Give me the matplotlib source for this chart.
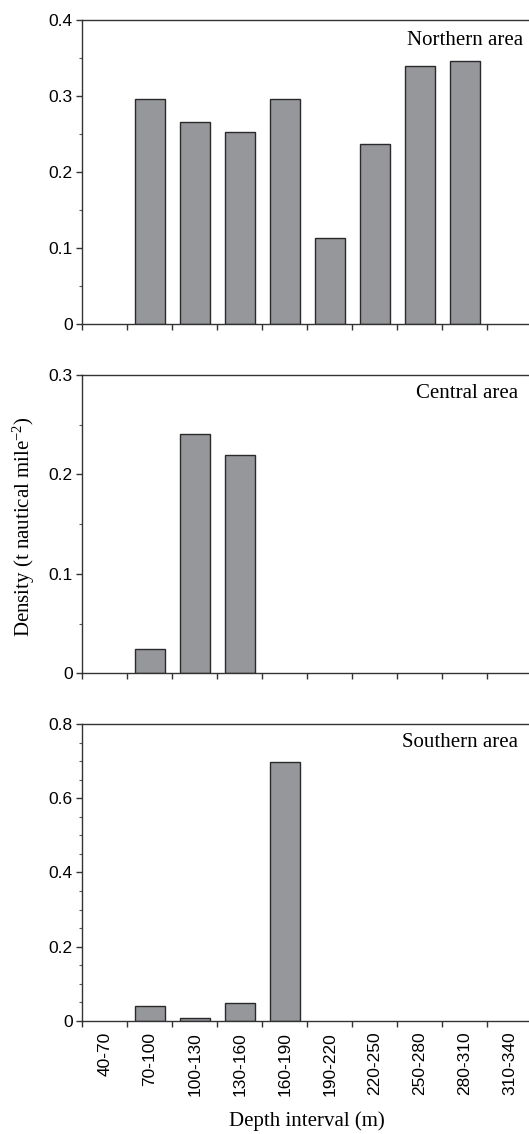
import numpy as np
import matplotlib
matplotlib.use('Agg')
import matplotlib.pyplot as plt
from matplotlib.ticker import MultipleLocator

depths = ['40-70', '70-100', '100-130', '130-160', '160-190',
          '190-220', '220-250', '250-280', '280-310', '310-340']
northern = [0, 0.296, 0.266, 0.252, 0.296, 0.113, 0.237, 0.340, 0.346, 0]
central = [0, 0.024, 0.241, 0.220, 0, 0, 0, 0, 0, 0]
southern = [0, 0.040, 0.007, 0.047, 0.698, 0, 0, 0, 0, 0]
areas = ['Northern area', 'Central area', 'Southern area']
ymax = [0.4, 0.3, 0.8]
ystep = [0.1, 0.1, 0.2]

plt.rcParams['mathtext.fontset'] = 'custom'
plt.rcParams['mathtext.rm'] = 'Liberation Serif'
plt.rcParams['mathtext.it'] = 'Liberation Serif:italic'

fig = plt.figure(figsize=(5.29, 11.34), dpi=100)
boxes = [[0.1556, 0.7143, 0.8507, 0.2681],
         [0.1556, 0.4063, 0.8507, 0.2630],
         [0.1556, 0.0999, 0.8507, 0.2614]]
text_pos = [(0.979, 0.918), (0.968, 0.922), (0.968, 0.924)]

x = np.arange(len(depths))
for i, vals in enumerate([northern, central, southern]):
    ax = fig.add_axes(boxes[i])
    # empty intervals get no outline
    edges = ['#2a2a2a' if v > 0 else 'none' for v in vals]
    ax.bar(x, vals, width=0.66, color='#96979b', edgecolor=edges, linewidth=1.0, zorder=3)
    ax.set_xlim(-0.5, 9.5)
    ax.set_ylim(0, ymax[i])
    ax.yaxis.set_major_locator(MultipleLocator(ystep[i]))
    ax.yaxis.set_minor_locator(MultipleLocator(0.05))
    ax.yaxis.set_major_formatter(plt.FuncFormatter(lambda v, p: '0' if v == 0 else '%g' % v))
    ax.set_xticks(x)
    ax.set_xticks(np.arange(-0.5, 10, 1), minor=True)
    ax.tick_params(axis='x', which='major', length=0)
    ax.tick_params(axis='x', which='minor', length=4, width=1, direction='out', color='#333333')
    ax.tick_params(axis='y', which='major', length=4, width=1, color='#333333',
                   labelsize=12.5, labelfontfamily='Liberation Sans', pad=3)
    ax.tick_params(axis='y', which='minor', length=2.5, width=0.8, color='#555555')
    if i == 2:
        ax.set_xticklabels(depths, rotation=90, fontsize=12.5, family='Liberation Sans')
        ax.tick_params(axis='x', which='major', pad=8)
    else:
        ax.set_xticklabels([])
    ax.spines['right'].set_visible(False)
    for s in ['top', 'left', 'bottom']:
        ax.spines[s].set_color('#333333')
        ax.spines[s].set_linewidth(1.0)
        ax.spines[s].set_zorder(4)
    ax.text(text_pos[i][0], text_pos[i][1], areas[i], transform=ax.transAxes,
            ha='right', va='baseline', fontsize=15, family='Liberation Serif')

fig.text(0.0444, 0.536, r'Density (t nautical mile$^{\mathregular{-2}}$)', rotation=90,
         ha='center', va='center', fontsize=15, family='Liberation Serif')
fig.text(0.580, 0.007, 'Depth interval (m)', ha='center', va='baseline',
         fontsize=15, family='Liberation Serif')

fig.savefig('out.png', dpi=100)
